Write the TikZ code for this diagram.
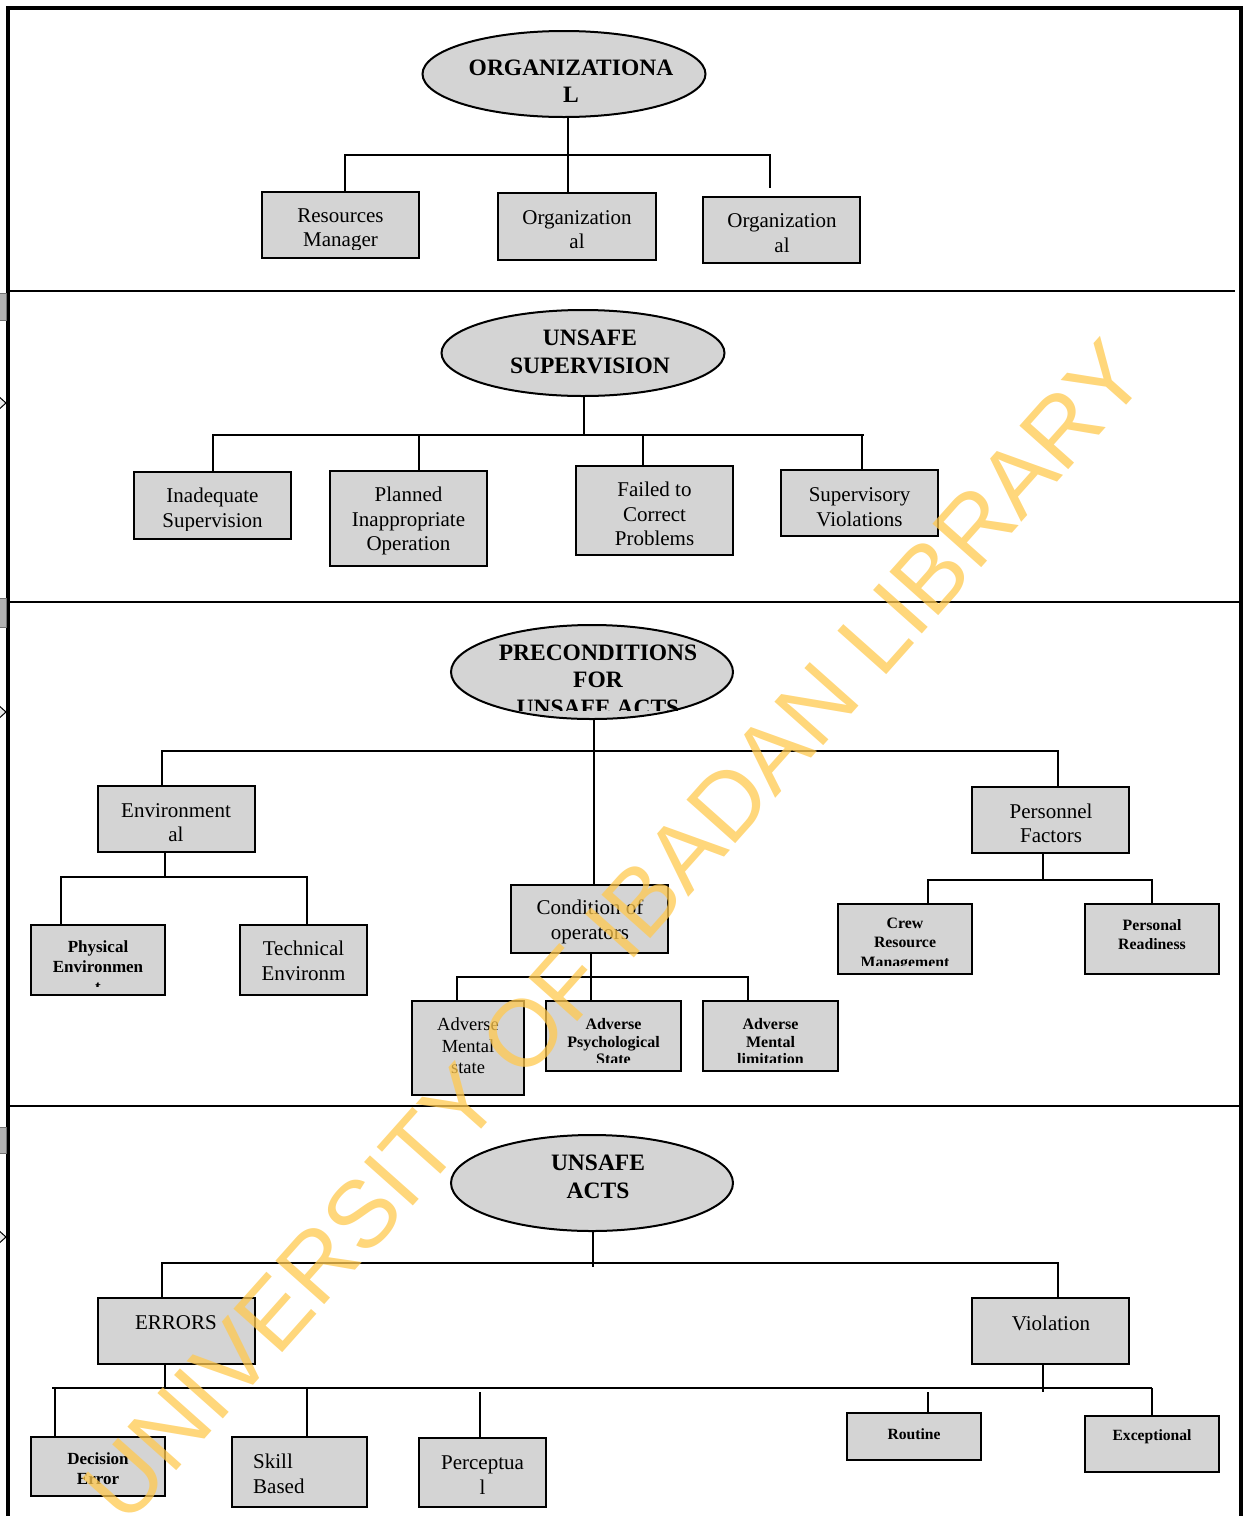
\documentclass[tikz,border=0pt]{standalone}
\usepackage{fontspec}
\setmainfont{Liberation Serif}
\newfontfamily\wmfont{Liberation Sans}
\usetikzlibrary{shapes.geometric}
\definecolor{boxfill}{HTML}{D4D4D4}
\definecolor{wmcol}{HTML}{FFC94F}
\tikzset{
 boxst/.style={draw=black, line width=2.5pt, fill=boxfill, rectangle, inner sep=0pt},
 ellst/.style={draw=black, line width=2pt, fill=boxfill, ellipse, inner sep=0pt},
 conn/.style={line width=2pt},
 rtxt/.style={font=\fontsize{21}{24.5}\selectfont, align=center, inner sep=0pt},
 btxt/.style={font=\bfseries\fontsize{16}{19}\selectfont, align=center, inner sep=0pt},
 etxt/.style={font=\bfseries\fontsize{23.5}{27.5}\selectfont, align=center, inner sep=0pt},
 framest/.style={line width=3.5pt, line join=miter},
 divider/.style={line width=2pt},
}
% name, x1, y1, x2, y2, text x, text y, text style, text
\newcommand{\mkbox}[9]{%
 \node[boxst, minimum width={(#4-#2)*1pt}, minimum height={(#5-#3)*1pt}] (#1) at ({(#2+#4)/2},{(#3+#5)/2}) {};
 \begin{scope}
  \clip (#2+2,#3+2) rectangle (#4-2,#5-9);
  \node[#8] (#1-t) at (#6,#7) {#9};
 \end{scope}}
\begin{document}
\begin{tikzpicture}[x=1pt,y=-1pt]
\useasboundingbox (0,0) rectangle (1243,1516);
% frame and dividers
\draw[framest] (8,1520) -- (8,8) -- (1241,8) -- (1241,1520);
\draw[divider] (8,291) -- (1235,291);
\draw[divider] (8,602) -- (1241,602);
\draw[divider] (8,1106) -- (1241,1106);
% left edge marks
\foreach \ya/\yb in {293/320, 598/627, 1127/1153}
  \draw[fill=gray!60, draw=gray!90!black, line width=0.8pt] (-2,\ya) rectangle (6.5,\yb);
\foreach \yc in {403, 712, 1237}
  \draw[fill=gray!15, draw=black, line width=1pt] (-4,\yc-9) -- (6,\yc) -- (-4,\yc+9);

% ---------- Section 1 ----------
\node[ellst, minimum width=283pt, minimum height=86pt] (o1) at (564,74) {};
\node[etxt] (o1-t) at (571,81) {ORGANIZATIONA\\L};
\mkbox{b11}{262}{192}{419}{258}{340.5}{230}{rtxt}{Resources\\Manager}
\mkbox{b12}{498}{193}{656}{260}{577}{229.5}{rtxt}{Organization\\al}
\mkbox{b13}{703}{197}{860}{263}{782}{233}{rtxt}{Organization\\al}
\coordinate (f13) at (770,188);
\draw[conn] (o1.south -| 568,0) -- (568,155);
\draw[conn] (b11.north -| 345,0) |- (f13 |- 0,155) -- (f13);
\draw[conn] (568,155) -- (b12.north -| 568,0);

% ---------- Section 2 ----------
\node[ellst, minimum width=283pt, minimum height=86pt] (o2) at (583,353) {};
\node[etxt] (o2-t) at (590,352) {UNSAFE\\SUPERVISION};
\mkbox{b21}{134}{472}{291}{539}{212.5}{510}{rtxt}{Inadequate\\Supervision}
\mkbox{b22}{330}{471}{487}{566}{408.5}{521}{rtxt}{Planned\\Inappropriate\\Operation}
\mkbox{b23}{576}{466}{733}{555}{654.5}{514}{rtxt}{Failed to\\Correct\\Problems}
\mkbox{b24}{781}{470}{938}{536}{859.5}{507}{rtxt}{Supervisory\\Violations}
\draw[conn] (o2.south -| 584,0) -- (584,435);
\draw[conn] (b21.north -| 213,0) |- (864,435);
\draw[conn] (419,435) -- (b22.north -| 419,0);
\draw[conn] (643,435) -- (b23.north -| 643,0);
\draw[conn] (862,435) -- (b24.north -| 862,0);

% ---------- Section 3 ----------
\node[ellst, minimum width=282pt, minimum height=94pt] (o3) at (592,672) {};
\begin{scope}
 \clip (440,620) rectangle (745,710);
 \node[etxt] (o3-t) at (598,680) {PRECONDITIONS\\FOR\\UNSAFE ACTS};
\end{scope}
\mkbox{b31}{98}{786}{255}{852}{176}{822.5}{rtxt}{Environment\\al}
\mkbox{b32}{972}{787}{1129}{853}{1051}{823.5}{rtxt}{Personnel\\Factors}
\mkbox{b3c}{511}{885}{668}{953}{590}{922}{rtxt}{Condition of\\operators}
\mkbox{b33}{31}{925}{165}{995}{98}{967}{btxt, font=\bfseries\fontsize{17}{20}\selectfont}{Physical\\Environmen\\t}
\mkbox{b34}{240}{925}{367}{995}{303.5}{961}{rtxt}{Technical\\Environm}
\mkbox{b35}{838}{904}{972}{974}{905}{944}{btxt, font=\bfseries\fontsize{15.8}{19.5}\selectfont}{Crew\\Resource\\Management}
\mkbox{b36}{1085}{904}{1219}{974}{1152}{934.5}{btxt, font=\bfseries\fontsize{15.8}{19.5}\selectfont}{Personal\\Readiness}
\mkbox{b37}{412}{1001}{524}{1095}{468}{1046}{rtxt, font=\fontsize{18.5}{21.5}\selectfont}{Adverse\\Mental\\state}
\mkbox{b38}{546}{1001}{681}{1071}{613.5}{1042}{btxt, font=\bfseries\fontsize{16}{17.5}\selectfont}{Adverse\\Psychological\\State}
\mkbox{b39}{703}{1001}{838}{1071}{770.5}{1042}{btxt, font=\bfseries\fontsize{16}{17.5}\selectfont}{Adverse\\Mental\\limitation}
\draw[conn] (o3.south -| 594,0) -- (b3c.north -| 594,0);
\draw[conn] (b31.north -| 162,0) |- (1058,751) -- (b32.north -| 1058,0);
\draw[conn] (b31.south -| 165,0) -- (165,877);
\draw[conn] (b33.north -| 61,0) |- (307,877) -- (b34.north -| 307,0);
\draw[conn] (b32.south -| 1043,0) -- (1043,880);
\draw[conn] (b35.north -| 928,0) |- (1152,880) -- (b36.north -| 1152,0);
\draw[conn] (b3c.south -| 591,0) -- (591,977);
\draw[conn] (b37.north -| 457,0) |- (748,977) -- (b39.north -| 748,0);
\draw[conn] (591,977) -- (b38.north -| 591,0);

% ---------- Section 4 ----------
\node[ellst, minimum width=282pt, minimum height=96pt] (o4) at (592,1183) {};
\node[etxt] (o4-t) at (598,1177) {UNSAFE\\ACTS};
\mkbox{b41}{98}{1298}{255}{1364}{176}{1323}{rtxt}{ERRORS}
\mkbox{b42}{972}{1298}{1129}{1364}{1051}{1323}{rtxt}{Violation}
\mkbox{b43}{31}{1437}{165}{1496}{98}{1469}{btxt, font=\bfseries\fontsize{17}{20}\selectfont}{Decision\\Error}
\node[boxst, minimum width=135pt, minimum height=70pt] (b44) at (299.5,1472) {};
\node[rtxt, align=left, anchor=west] (b44-t) at (253,1474) {Skill\\Based};
\mkbox{b45}{419}{1438}{546}{1507}{482.5}{1475}{rtxt}{Perceptua\\l}
\mkbox{b46}{847}{1413}{981}{1460}{914}{1434}{btxt, font=\bfseries\fontsize{15.6}{19}\selectfont}{Routine}
\mkbox{b47}{1085}{1416}{1219}{1472}{1152}{1437}{btxt, font=\bfseries\fontsize{15.6}{19}\selectfont}{Exceptional}
\coordinate (barL) at (52,1388);
\coordinate (barR) at (1152,1388);
\coordinate (t45) at (480,1392);
\coordinate (t46) at (928,1392);
\draw[conn] (o4.south -| 593,0) -- (593,1267);
\draw[conn] (b41.north -| 162,0) |- (1058,1263) -- (b42.north -| 1058,0);
\draw[conn] (b41.south -| 165,0) -- (165,1388);
\draw[conn] (barL) -- (barR);
\draw[conn] (55,1388) -- (b43.north -| 55,0);
\draw[conn] (307,1388) -- (b44.north -| 307,0);
\draw[conn] (t45) -- (b45.north -| t45);
\draw[conn] (b42.south -| 1043,0) -- (1043,1392);
\draw[conn] (t46) -- (b46.north -| t46);
\draw[conn] (barR) -- (b47.north -| barR);

% ---------- watermark ----------
\node[text=wmcol, text opacity=0.75, font=\wmfont\fontsize{95}{95}\selectfont, rotate=48.3, inner sep=0pt] (wm) at (614,931) {UNIVERSITY OF IBADAN LIBRARY};
\end{tikzpicture}
\end{document}
